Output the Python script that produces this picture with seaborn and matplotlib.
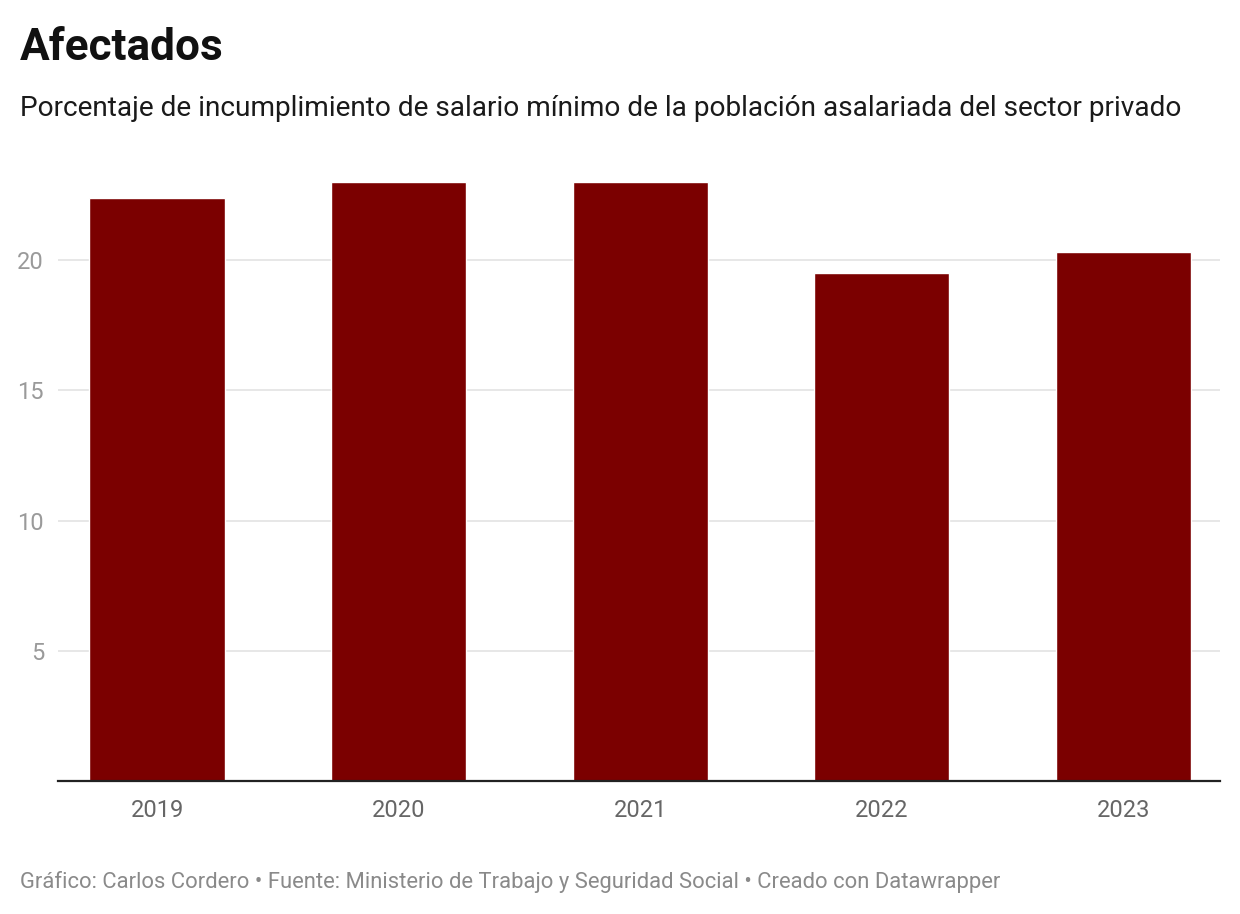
import matplotlib
matplotlib.use("Agg")
import matplotlib.pyplot as plt
import seaborn as sns
import pandas as pd

years = ["2019", "2020", "2021", "2022", "2023"]
values = [22.4, 23.0, 23.0, 19.5, 20.3]
yticks = [5, 10, 15, 20]

sns.set_theme(style="white")
plt.rcParams["font.family"] = ["Roboto", "DejaVu Sans"]

df = pd.DataFrame({"year": years, "value": values})

fig = plt.figure(figsize=(12.4, 9.14), dpi=100)
ax = fig.add_axes([58 / 1240, (914 - 781) / 914, (1220 - 58) / 1240, (781 - 169) / 914])

sns.barplot(data=df, x="year", y="value", color="#7b0000", width=0.56,
            saturation=1, ax=ax, zorder=3)

ax.set_ylim(0, 23.5)
ax.set_xlim(-0.41, 4.4)
ax.set_yticks(yticks)
ax.yaxis.grid(True, color="#e3e3e3", linewidth=1.2, zorder=0)
ax.set_axisbelow(True)
ax.set_xlabel("")
ax.set_ylabel("")
for s in ["top", "right", "left"]:
    ax.spines[s].set_visible(False)
ax.spines["bottom"].set_color("#222222")
ax.spines["bottom"].set_linewidth(1.6)
ax.spines["bottom"].set_zorder(5)
ax.tick_params(axis="y", length=0, pad=10, labelsize=17, labelcolor="#9a9a9a")
ax.tick_params(axis="x", length=0, pad=13, labelsize=17, labelcolor="#666666")
for lab in ax.get_yticklabels():
    lab.set_horizontalalignment("right")

fig.text(20 / 1240, 1 - 48 / 914, "Afectados", fontsize=31.8, fontweight="bold",
         color="#111111", va="center", ha="left")
fig.text(20 / 1240, 1 - 108 / 914,
         "Porcentaje de incumplimiento de salario mínimo de la población asalariada del sector privado",
         fontsize=20.2, color="#1a1a1a", va="center", ha="left")
fig.text(20 / 1240, 1 - 882 / 914,
         "Gráfico: Carlos Cordero • Fuente: Ministerio de Trabajo y Seguridad Social • Creado con Datawrapper",
         fontsize=15.85, color="#8a8a8a", va="center", ha="left")

fig.savefig("out.png", dpi=100)
